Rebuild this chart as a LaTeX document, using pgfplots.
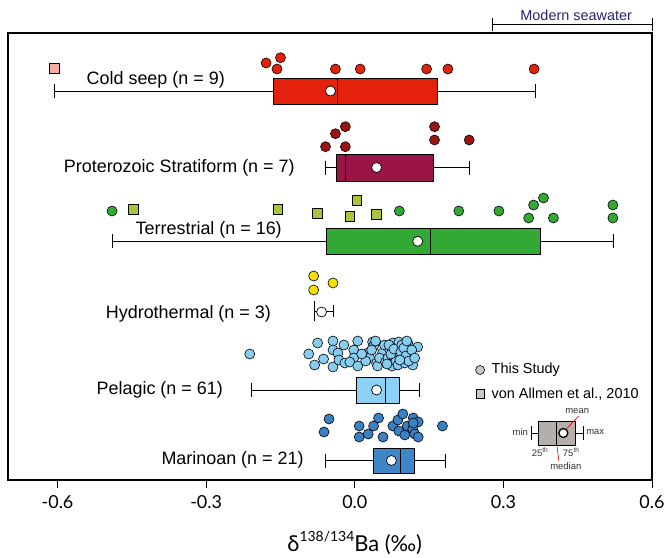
\documentclass[border=0pt]{standalone}
\usepackage{pgfplots}
\pgfplotsset{compat=1.18}
\usepgfplotslibrary{statistics}
\usepackage{fontspec}
\setmainfont{Liberation Sans}
\newfontfamily\latof{Lato}
\definecolor{cseep}{RGB}{227,33,13}
\definecolor{cseepsq}{RGB}{244,172,162}
\definecolor{protbox}{RGB}{155,20,72}
\definecolor{protpt}{RGB}{155,20,20}
\definecolor{terr}{RGB}{52,168,52}
\definecolor{terrsq}{RGB}{168,196,58}
\definecolor{hydro}{RGB}{246,225,0}
\definecolor{pelbox}{RGB}{140,208,245}
\definecolor{pelpt}{RGB}{135,205,240}
\definecolor{marbox}{RGB}{62,134,200}
\definecolor{marpt}{RGB}{58,128,196}
\definecolor{leggray}{RGB}{200,200,200}
\definecolor{insetgray}{RGB}{180,175,172}
\definecolor{navy}{RGB}{40,35,110}
\begin{document}
\begin{tikzpicture}
\useasboundingbox (-8bp,-78bp) rectangle (657bp,480bp);
\begin{axis}[
 at={(0,0)}, anchor=south west,
 scale only axis, width=644bp, height=447bp,
 xmin=-0.7, xmax=0.6, ymin=33, ymax=480, y dir=reverse,
 axis line style={line width=1.2pt},
 xtick={-0.6,-0.3,0,0.3,0.6},
 xticklabels={-0.6,-0.3,0.0,0.3,0.6},
 ytick=\empty,
 xtick pos=lower,
 tick align=outside,
 major tick length=8bp,
 tick style={line width=1pt, black},
 xticklabel style={font=\latof\fontsize{18}{20}\selectfont, yshift=-4bp},
 clip=false,
 boxplot/draw direction=x,
]
% ---- data points ----
\addplot[only marks, mark=square*, mark size=4.8bp, mark options={fill=cseepsq, draw=black, line width=0.6pt}] coordinates {(-0.606,68)};
\addplot[only marks, mark=*, mark size=5bp, mark options={fill=cseep, draw=black, line width=0.6pt}] coordinates {
(-0.179,63) (-0.150,57.7) (-0.157,69) (-0.039,69) (0.011,69) (0.145,69) (0.188,69) (0.362,69)};
\addplot[only marks, mark=*, mark size=5bp, mark options={fill=protpt, draw=black, line width=0.6pt}] coordinates {
(-0.059,146.7) (-0.039,133.7) (-0.019,126.7) (-0.019,146.7) (0.161,126.7) (0.161,140) (0.231,140)};
\addplot[only marks, mark=*, mark size=5bp, mark options={fill=terr, draw=black, line width=0.6pt}] coordinates {
(-0.490,211) (0.090,211) (0.210,211) (0.291,211) (0.351,218) (0.361,205) (0.381,198) (0.401,218) (0.521,205) (0.521,218)};
\addplot[only marks, mark=square*, mark size=4.8bp, mark options={fill=terrsq, draw=black, line width=0.6pt}] coordinates {
(-0.447,209) (-0.155,209) (-0.076,213) (0.004,200) (-0.010,216) (0.044,214)};
\addplot[only marks, mark=*, mark size=5bp, mark options={fill=hydro, draw=black, line width=0.6pt}] coordinates {
(-0.083,276) (-0.083,290) (-0.044,283)};
\addplot[only marks, mark=*, mark size=5bp, mark options={fill=pelpt, draw=black, line width=0.6pt}] coordinates {
(-0.212,354) (-0.093,354) (-0.075,343) (-0.081,365) (-0.063,359) (-0.044,341) (-0.044,350) (-0.044,367) (-0.034,353) (-0.022,345) (-0.032,360) (-0.020,363) (-0.002,350) (0.006,341) (-0.002,358) (-0.010,362)
(0.006,366) (0.026,353) (0.036,342) (0.038,346) (0.030,358) (0.044,363) (0.046,366) (0.056,353) (0.060,345) (0.034,350) (0.022,361) (0.050,358) (0.014,354) (0.042,341) (0.062,362)
(0.067,358) (0.077,343) (0.077,363) (0.085,353) (0.087,348) (0.071,350) (0.081,357) (0.069,345) (0.075,366) (0.083,361) (0.073,354) (0.089,342) (0.065,364) (0.079,349) (0.087,365)
(0.095,345) (0.097,358) (0.101,363) (0.107,343) (0.111,353) (0.117,365) (0.127,347) (0.093,352) (0.099,348) (0.103,356) (0.109,361) (0.115,350) (0.091,360) (0.105,341) (0.121,358)};
\addplot[only marks, mark=*, mark size=5bp, mark options={fill=marpt, draw=black, line width=0.6pt}] coordinates {
(-0.052,419) (-0.062,432) (0.009,426) (0.009,437) (0.027,434) (0.038,426) (0.048,418) (0.057,437) (0.077,426) (0.087,420) (0.097,414) (0.089,431) (0.101,435) (0.106,426) (0.118,418) (0.117,429) (0.121,434) (0.128,422) (0.128,437) (0.118,423) (0.177,426)};
% ---- box plots ----
\addplot[draw=black, fill=cseep, line width=0.7pt, boxplot prepared={lower whisker=-0.606, lower quartile=-0.165, median=-0.036, upper quartile=0.166, upper whisker=0.364, draw position=91, box extend=26, whisker extend=14}] coordinates {};
\addplot[draw=black, fill=protbox, line width=0.7pt, boxplot prepared={lower whisker=-0.059, lower quartile=-0.037, median=-0.019, upper quartile=0.159, upper whisker=0.231, draw position=167.5, box extend=27, whisker extend=14}] coordinates {};
\addplot[draw=black, fill=terr, line width=0.7pt, boxplot prepared={lower whisker=-0.490, lower quartile=-0.057, median=0.152, upper quartile=0.374, upper whisker=0.521, draw position=241.3, box extend=26, whisker extend=14}] coordinates {};
\addplot[draw=black, fill=white, line width=0.7pt, boxplot prepared={lower whisker=-0.081, lower quartile=-0.081, median=-0.081, upper quartile=-0.081, upper whisker=-0.044, draw position=311, box extend=20, whisker extend=12}] coordinates {};
\addplot[draw=black, fill=pelbox, line width=0.7pt, boxplot prepared={lower whisker=-0.208, lower quartile=0.003, median=0.062, upper quartile=0.089, upper whisker=0.131, draw position=390, box extend=26, whisker extend=14}] coordinates {};
\addplot[draw=black, fill=marbox, line width=0.7pt, boxplot prepared={lower whisker=-0.059, lower quartile=0.038, median=0.092, upper quartile=0.120, upper whisker=0.182, draw position=460.5, box extend=25, whisker extend=14}] coordinates {};
% means
\addplot[only marks, mark=*, mark size=5bp, mark options={fill=white, draw=black, line width=0.7pt}] coordinates {
(-0.049,91) (0.044,167.5) (0.127,241.3) (-0.067,312) (0.044,390) (0.074,460.5)};
% ---- inset legend box ----
\addplot[draw=black, fill=insetgray, line width=0.9pt, boxplot prepared={lower whisker=0.356, lower quartile=0.371, median=0.407, upper quartile=0.446, upper whisker=0.462, draw position=433, box extend=24, whisker extend=14}] coordinates {};
\addplot[red!80!black, line width=0.6pt] coordinates {(0.452,416) (0.427,429)};
\addplot[red!80!black, line width=0.6pt] coordinates {(0.408,445) (0.412,461)};
\addplot[only marks, mark=*, mark size=4.5bp, mark options={fill=white, draw=black, line width=1.3pt}] coordinates {(0.421,433)};
% legend markers
\addplot[only marks, mark=*, mark size=4.5bp, mark options={fill=leggray, draw=black, line width=0.6pt}] coordinates {(0.253,370)};
\addplot[only marks, mark=square*, mark size=4.3bp, mark options={fill=leggray, draw=black, line width=0.6pt}] coordinates {(0.253,394)};
% modern seawater bracket
\addplot[black, line width=0.8pt] coordinates {(0.277,24) (0.6,24)};
\addplot[black, line width=0.8pt] coordinates {(0.277,18) (0.277,31)};
\addplot[black, line width=0.8pt] coordinates {(0.6,18) (0.6,31)};
% ---- text ----
\begin{scope}[font=\fontsize{18}{20}\selectfont]
\node[anchor=east, inner sep=0] at (axis cs:-0.262,80) {Cold seep (n = 9)};
\node[anchor=east, inner sep=0] at (axis cs:-0.121,168) {Proterozoic Stratiform (n = 7)};
\node[anchor=east, inner sep=0] at (axis cs:-0.147,230) {Terrestrial (n = 16)};
\node[anchor=east, inner sep=0] at (axis cs:-0.169,314) {Hydrothermal (n = 3)};
\node[anchor=east, inner sep=0] at (axis cs:-0.266,390) {Pelagic (n = 61)};
\node[anchor=east, inner sep=0] at (axis cs:-0.103,460) {Marinoan (n = 21)};
\end{scope}
\node[anchor=west, inner sep=0, font=\fontsize{14.5}{16}\selectfont] at (axis cs:0.276,370) {This Study};
\node[anchor=west, inner sep=0, font=\fontsize{14.5}{16}\selectfont] at (axis cs:0.276,394) {von Allmen et al., 2010};
\node[inner sep=0, text=navy, font=\fontsize{14.5}{16}\selectfont] at (axis cs:0.447,15.5) {Modern seawater};
\begin{scope}[font=\fontsize{9.5}{10}\selectfont, text=black!80]
\node[anchor=east, inner sep=1pt] at (axis cs:0.352,432) {min};
\node[anchor=west, inner sep=1pt] at (axis cs:0.465,432) {max};
\node[inner sep=0] at (axis cs:0.449,411) {mean};
\node[inner sep=0] at (axis cs:0.374,452) {25\textsuperscript{th}};
\node[inner sep=0] at (axis cs:0.437,452) {75\textsuperscript{th}};
\node[inner sep=0] at (axis cs:0.426,466) {median};
\end{scope}
\node[inner sep=0, font=\latof\fontsize{22}{24}\selectfont] at (axis cs:0.0,543) {δ\raisebox{0.45em}{\fontsize{14}{14}\selectfont 138/134}Ba (‰)};
\end{axis}
\end{tikzpicture}
\end{document}
